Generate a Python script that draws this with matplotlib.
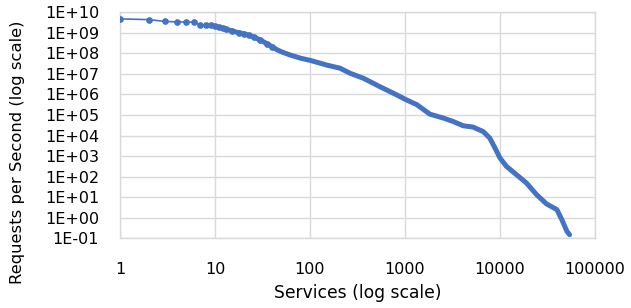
import matplotlib
matplotlib.use("Agg")
import matplotlib.pyplot as plt
import numpy as np
from matplotlib.ticker import FixedLocator, FixedFormatter, NullLocator

plt.rcParams["font.family"] = ["DejaVu Sans"]

# 服務排名（x）與每秒請求數（y），從圖上讀取的估計值
rank = [1, 2, 3, 4, 5, 6, 7, 8, 9, 10,
        11, 12, 13, 15, 18, 20, 23, 26, 30, 35, 40, 45, 50, 62, 80, 100,
        150, 207, 264, 364, 544, 820, 1000, 1330, 1830, 2540, 3230, 4100,
        5200, 6200, 6620, 7800, 8850, 10000, 11700, 14900, 19000, 24200,
        30900, 39700, 44700, 50600, 54000]
rps = [4.8e9, 4.4e9, 3.6e9, 3.4e9, 3.4e9, 3.3e9, 2.5e9, 2.3e9, 2.3e9, 2.1e9,
       1.9e9, 1.7e9, 1.5e9, 1.25e9, 1.0e9, 9.0e8, 7.5e8, 6.0e8, 4.5e8, 3.0e8,
       2.1e8, 1.5e8, 1.2e8, 8.3e7, 5.8e7, 4.6e7,
       2.7e7, 1.9e7, 1.08e7, 6.2e6, 2.4e6, 9.5e5, 5.9e5, 3.2e5, 1.1e5, 7.1e4,
       4.8e4, 3.0e4, 2.6e4, 1.8e4, 1.6e4, 7.6e3, 2.5e3, 810, 316, 125, 49,
       13.5, 4.7, 2.5, 0.82, 0.22, 0.15]

x_ticks = [1, 10, 100, 1000, 10000, 100000]
x_labels = ["1", "10", "100", "1000", "10000", "100000"]
y_ticks = [10.0 ** e for e in range(-1, 11)]
y_labels = ["1E-01", "1E+00", "1E+01", "1E+02", "1E+03", "1E+04",
            "1E+05", "1E+06", "1E+07", "1E+08", "1E+09", "1E+10"]

BLUE = "#4472C4"
GRID = "#D9D9D9"

fig = plt.figure(figsize=(6.31, 3.08), dpi=100)
ax = fig.add_axes([120 / 631, 1 - 238.3 / 308, 475 / 631, 226 / 308])

r = np.array(rank)
v = np.array(rps)
tail = r >= 10
head = r <= 40
ax.plot(r[tail], v[tail], color=BLUE, lw=3.6, solid_capstyle="round",
        solid_joinstyle="round", zorder=3)
ax.plot(r[head], v[head], color=BLUE, lw=1.2, marker="o", ms=3.8, zorder=4)

ax.set_xscale("log")
ax.set_yscale("log")
ax.set_xlim(1, 100000)
ax.set_ylim(0.1, 1e10)

ax.xaxis.set_major_locator(FixedLocator(x_ticks))
ax.xaxis.set_major_formatter(FixedFormatter(x_labels))
ax.xaxis.set_minor_locator(NullLocator())
ax.yaxis.set_major_locator(FixedLocator(y_ticks))
ax.yaxis.set_major_formatter(FixedFormatter(y_labels))
ax.yaxis.set_minor_locator(NullLocator())

ax.grid(True, color=GRID, lw=1.0)
ax.set_axisbelow(True)
for s in ax.spines.values():
    s.set_color(GRID)
    s.set_linewidth(1.0)
ax.tick_params(axis="both", length=0, labelsize=11.5, colors="#000000")
ax.tick_params(axis="x", pad=17)
ax.tick_params(axis="y", pad=15)

fig.text(358 / 631, 1 - 293 / 308, "Services (log scale)", ha="center",
         va="center", fontsize=12.3)
fig.text(18 / 631, 1 - 152 / 308, "Requests per Second (log scale)",
         ha="center", va="center", rotation=90, fontsize=11.8)

fig.savefig("out.png", dpi=100)
